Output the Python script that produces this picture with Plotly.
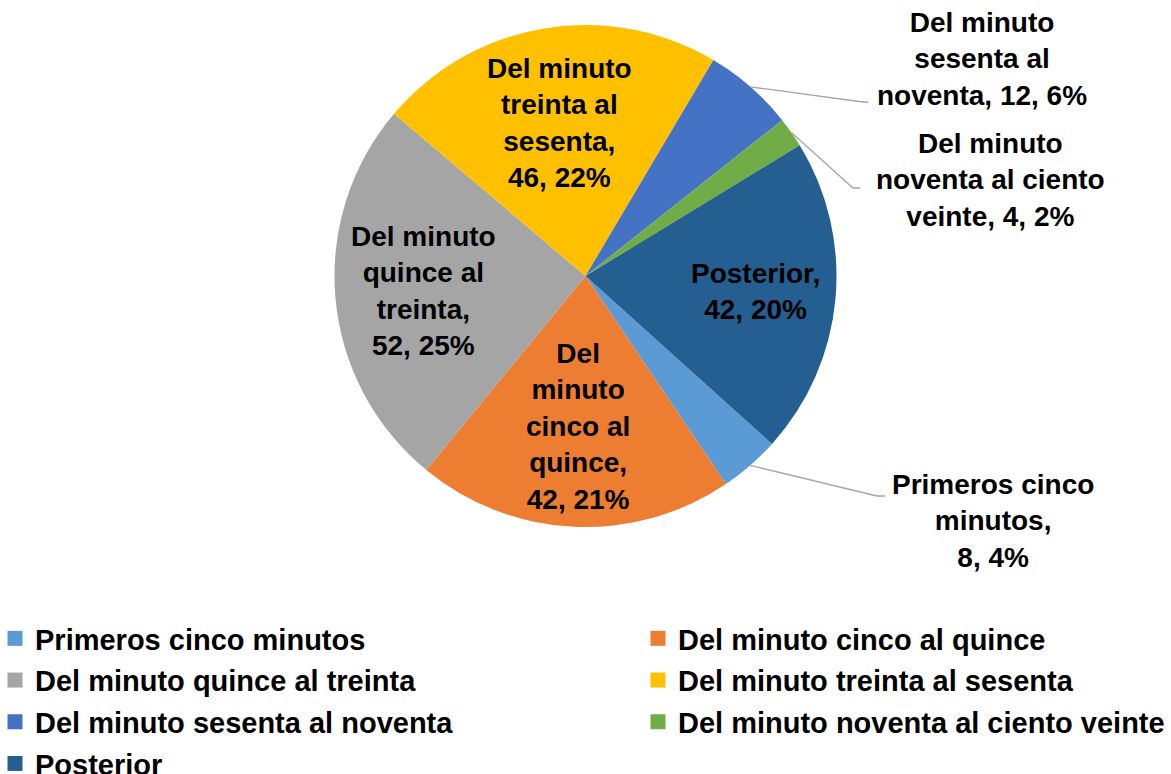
import math
import plotly.graph_objects as go

# ---------------- data ----------------
labels = [
    "Primeros cinco minutos",
    "Del minuto cinco al quince",
    "Del minuto quince al treinta",
    "Del minuto treinta al sesenta",
    "Del minuto sesenta al noventa",
    "Del minuto noventa al ciento veinte",
    "Posterior",
]
values = [8, 42, 52, 46, 12, 4, 42]
percents = [4, 21, 25, 22, 6, 2, 20]

# wrapped label names as shown on the chart
wrapped_names = [
    "Primeros cinco<br>minutos",
    "Del<br>minuto<br>cinco al<br>quince",
    "Del minuto<br>quince al<br>treinta",
    "Del minuto<br>treinta al<br>sesenta",
    "Del minuto<br>sesenta al<br>noventa",
    "Del minuto<br>noventa al ciento<br>veinte",
    "Posterior",
]
value_sep = ["<br>", "<br>", "<br>", "<br>", " ", " ", "<br>"]

colors = ["#5B9BD5", "#ED7D31", "#A5A5A5", "#FFC000", "#4472C4", "#70AD47", "#255E91"]

# ---------------- geometry / style ----------------
W, H = 1171, 774
FONT = "Arial, Liberation Sans, sans-serif"
ROTATION = 132
CX, CY, R = 585.5, 276.0, 251.0
pie_top, pie_bot = CY - R, CY + R

# inside label radial fractions (None => outside label)
inside_r = [None, 0.60, 0.65, 0.62, None, None, 0.68]
# outside label text centres and leader-line elbows (pixels)
outside_pos = {0: (993, 521), 4: (982, 59), 5: (990, 180)}
outside_elbow = {0: ((877, 496), (885, 496)),
                 4: ((863, 102), (868, 102)),
                 5: ((853, 188), (860, 188))}


def px(x):
    return x / W


def py(y):
    return 1 - y / H


fig = go.Figure()
fig.add_trace(go.Pie(
    labels=labels,
    values=values,
    sort=False,
    direction="clockwise",
    rotation=ROTATION,
    marker=dict(colors=colors, line=dict(width=0)),
    textinfo="none",
    hoverinfo="label+value+percent",
    showlegend=False,
    domain=dict(x=[0, 1], y=[py(pie_bot), py(pie_top)]),
))

# legend entries in two columns (Excel-style legend): left column = even items
for i, (lab, col) in enumerate(zip(labels, colors)):
    fig.add_trace(go.Scatter(
        x=[None], y=[None], mode="markers", name=lab,
        marker=dict(symbol="square", size=15, color=col),
        legend="legend" if i % 2 == 0 else "legend2",
        legendgroup=lab, showlegend=True, hoverinfo="skip",
    ))

total = sum(values)
cum = 0
annotations = []
shapes = []
for i, v in enumerate(values):
    mid = ROTATION + (cum + v / 2) / total * 360
    cum += v
    a = math.radians(mid)
    text = f"{wrapped_names[i]},{value_sep[i]}{v}, {percents[i]}%"
    if inside_r[i] is not None:
        rr = inside_r[i] * R
        x = CX + rr * math.sin(a)
        y = CY - rr * math.cos(a)
        annotations.append(dict(x=px(x), y=py(y), xref="paper", yref="paper",
                                text=text, showarrow=False, xanchor="center",
                                yanchor="middle", align="center",
                                font=dict(family=FONT, size=28, color="black", weight="bold")))
    else:
        ex = CX + R * math.sin(a)
        ey = CY - R * math.cos(a)
        (bx, by), (cx2, cy2) = outside_elbow[i]
        shapes.append(dict(type="path", xref="paper", yref="paper",
                           path=f"M {px(ex)},{py(ey)} L {px(bx)},{py(by)} L {px(cx2)},{py(cy2)}",
                           line=dict(color="#A6A6A6", width=1.3)))
        tx, ty = outside_pos[i]
        annotations.append(dict(x=px(tx), y=py(ty), xref="paper", yref="paper",
                                text=text, showarrow=False, xanchor="center",
                                yanchor="middle", align="center",
                                font=dict(family=FONT, size=28, color="black", weight="bold")))

legend_style = dict(
    orientation="v",
    xanchor="left", yanchor="top",
    font=dict(family=FONT, size=29, color="black", weight="bold"),
    bgcolor="rgba(0,0,0,0)",
    traceorder="grouped",
    tracegroupgap=1,
)

fig.update_layout(
    width=W, height=H,
    margin=dict(l=0, r=0, t=0, b=0, autoexpand=False),
    paper_bgcolor="white",
    plot_bgcolor="white",
    xaxis=dict(visible=False),
    yaxis=dict(visible=False),
    annotations=annotations,
    shapes=shapes,
    showlegend=True,
    legend=dict(x=px(-5), y=py(613), **legend_style),
    legend2=dict(x=px(638), y=py(613), **legend_style),
)

fig.write_html("out.html", config={"displayModeBar": False},
               post_script="document.body.style.margin='0';")
